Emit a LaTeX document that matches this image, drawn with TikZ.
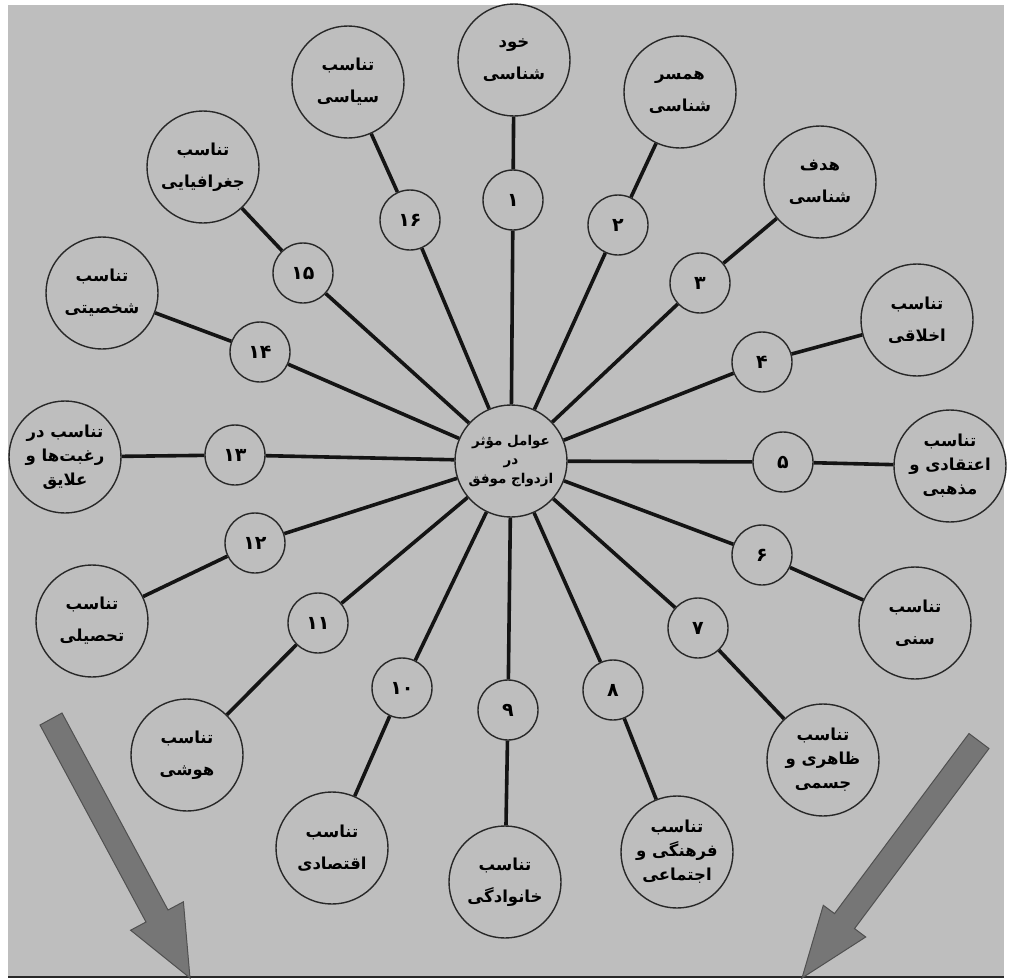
\documentclass[tikz,border=0pt]{standalone}
\usepackage{fontspec}
\newfontfamily\arabicfont[Script=Arabic]{DejaVu Sans}
\TeXXeTstate=1
\newcommand\rl[1]{\beginR#1\endR}
\definecolor{bg}{RGB}{190,190,190}
\definecolor{ln}{RGB}{40,40,40}
\definecolor{arr}{RGB}{118,118,118}
\definecolor{arrd}{RGB}{80,80,80}
\tikzset{
  outer/.style={circle, draw=ln, line width=1.4pt, fill=bg, minimum size=112pt, inner sep=0pt, align=center,
    font=\arabicfont\bfseries\fontsize{16.5}{32}\selectfont},
  outerthree/.style={outer, font=\arabicfont\bfseries\fontsize{16.5}{24}\selectfont},
  hub/.style={circle, draw=ln, line width=1.4pt, fill=bg, minimum size=112pt, inner sep=0pt, align=center,
    font=\arabicfont\bfseries\fontsize{13.5}{19}\selectfont},
  num/.style={circle, draw=ln, line width=1.4pt, fill=bg, minimum size=60pt, inner sep=0pt,
    font=\arabicfont\bfseries\fontsize{19}{22}\selectfont},
  spoke/.style={line width=3.6pt, draw=black!92},
  bigarrow/.style={fill=arr, draw=arrd, line width=1pt, line join=miter}
}
\begin{document}
\begin{tikzpicture}[x=1pt,y=-1pt]
\useasboundingbox (0,0) rectangle (1015,980);
\fill[white] (0,0) rectangle (1015,980);
\fill[bg] (8,5) rectangle (1004,977);
\draw[line width=2pt, draw=ln] (8,977) -- (1004,977);

% hub
\node[hub] (c) at (511,461) {\rl{عوامل مؤثر}\\\rl{در}\\\rl{ازدواج موفق}};

% numbered circles
\node[num] (n1) at (513,200) {۱};
\node[num] (n2) at (618,225) {۲};
\node[num] (n3) at (700,283) {۳};
\node[num] (n4) at (762,362) {۴};
\node[num] (n5) at (783,462) {۵};
\node[num] (n6) at (762,555) {۶};
\node[num] (n7) at (698,628) {۷};
\node[num] (n8) at (613,690) {۸};
\node[num] (n9) at (508,710) {۹};
\node[num] (n10) at (402,688) {۱۰};
\node[num] (n11) at (318,623) {۱۱};
\node[num] (n12) at (255,543) {۱۲};
\node[num] (n13) at (235,455) {۱۳};
\node[num] (n14) at (260,352) {۱۴};
\node[num] (n15) at (303,273) {۱۵};
\node[num] (n16) at (410,220) {۱۶};

% outer circles
\node[outer] (o1) at (514,60) {\rl{خود}\\\rl{شناسی}};
\node[outer] (o2) at (680,92) {\rl{همسر}\\\rl{شناسی}};
\node[outer] (o3) at (820,182) {\rl{هدف}\\\rl{شناسی}};
\node[outer] (o4) at (917,320) {\rl{تناسب}\\\rl{اخلاقی}};
\node[outerthree] (o5) at (950,466) {\rl{تناسب}\\\rl{اعتقادی و}\\\rl{مذهبی}};
\node[outer] (o6) at (915,623) {\rl{تناسب}\\\rl{سنی}};
\node[outerthree] (o7) at (823,760) {\rl{تناسب}\\\rl{ظاهری و}\\\rl{جسمی}};
\node[outerthree] (o8) at (677,852) {\rl{تناسب}\\\rl{فرهنگی و}\\\rl{اجتماعی}};
\node[outer] (o9) at (505,882) {\rl{تناسب}\\\rl{خانوادگی}};
\node[outer] (o10) at (332,848) {\rl{تناسب}\\\rl{اقتصادی}};
\node[outer] (o11) at (187,755) {\rl{تناسب}\\\rl{هوشی}};
\node[outer] (o12) at (92,621) {\rl{تناسب}\\\rl{تحصیلی}};
\node[outerthree] (o13) at (65,457) {\rl{تناسب در}\\\rl{رغبت‌ها و}\\\rl{علایق}};
\node[outer] (o14) at (102,293) {\rl{تناسب}\\\rl{شخصیتی}};
\node[outer] (o15) at (203,167) {\rl{تناسب}\\\rl{جغرافیایی}};
\node[outer] (o16) at (348,82) {\rl{تناسب}\\\rl{سیاسی}};

% spokes
\foreach \i in {1,...,16}{
  \draw[spoke] (c) -- (n\i);
  \draw[spoke] (n\i) -- (o\i);
}

% big arrows
\draw[bigarrow] (40,725) -- (62,713) -- (168,910) -- (183.4,901.8) -- (190,978) -- (130.6,930.2) -- (146,922) -- cycle;
\draw[bigarrow] (969,733.5) -- (989,748.5) -- (854.5,928.6) -- (865.7,937) -- (802,978) -- (823.3,905.3) -- (834.5,913.6) -- cycle;
\end{tikzpicture}
\end{document}
